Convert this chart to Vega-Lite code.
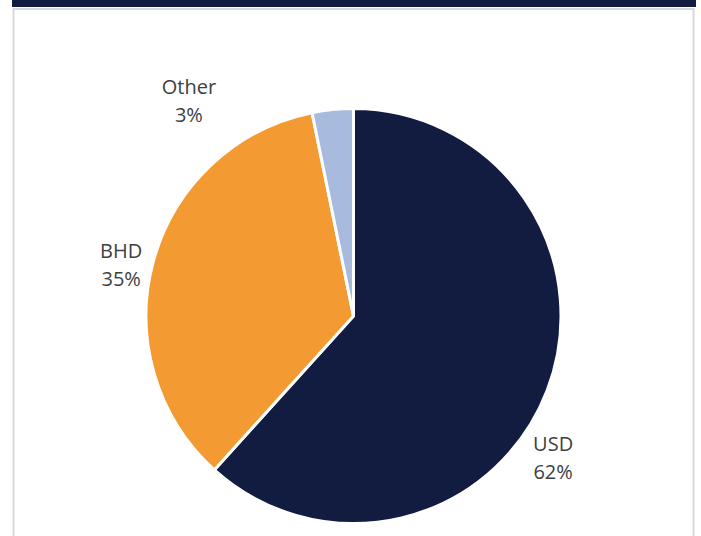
{
  "$schema": "https://vega.github.io/schema/vega-lite/v6.json",
  "background": "white",
  "padding": {"left": 12, "top": 0, "right": 5, "bottom": -87},
  "spacing": 1,
  "center": true,
  "config": {"view": {"stroke": null}},
  "vconcat": [
    {
      "width": 684,
      "height": 7,
      "view": {"fill": "#121b40", "stroke": null},
      "data": {"values": []},
      "mark": {"type": "text", "text": "", "clip": true}
    },
    {
      "width": 680,
      "height": 614,
      "view": {"stroke": "#d9d9d9", "strokeWidth": 2},
      "data": {
        "values": [
          {"cat": "USD", "value": 61.7, "order": 1, "label": "USD\n62%"},
          {"cat": "BHD", "value": 35.1, "order": 2, "label": "BHD\n35%"},
          {"cat": "Other", "value": 3.2, "order": 3, "label": "Other\n3%"}
        ]
      },
      "encoding": {
        "theta": {"field": "value", "type": "quantitative", "stack": true},
        "order": {"field": "order", "type": "quantitative"}
      },
      "layer": [
        {
          "mark": {"type": "arc", "outerRadius": 207.5, "stroke": "white", "strokeWidth": 3},
          "encoding": {
            "color": {
              "field": "cat",
              "type": "nominal",
              "scale": {"domain": ["USD", "BHD", "Other"], "range": ["#121b40", "#f39a32", "#a9badf"]},
              "legend": null
            }
          }
        },
        {
          "mark": {"type": "text", "clip": true, "radius": 245, "dx": -29, "dy": 41, "font": "Open Sans", "fontSize": 20, "lineHeight": 28, "lineBreak": "\n", "color": "#404040", "align": "center", "baseline": "middle"},
          "encoding": {
            "text": {"field": "label"},
            "opacity": {"condition": {"test": "datum.cat === 'USD'", "value": 1}, "value": 0}
          }
        },
        {
          "mark": {"type": "text", "clip": true, "radius": 245, "dx": 4, "dy": 0.5, "font": "Open Sans", "fontSize": 20, "lineHeight": 28, "lineBreak": "\n", "color": "#404040", "align": "center", "baseline": "middle"},
          "encoding": {
            "text": {"field": "label"},
            "opacity": {"condition": {"test": "datum.cat === 'BHD'", "value": 1}, "value": 0}
          }
        },
        {
          "mark": {"type": "text", "clip": true, "radius": 245, "dx": -140, "dy": 15.5, "font": "Open Sans", "fontSize": 20, "lineHeight": 28, "lineBreak": "\n", "color": "#404040", "align": "center", "baseline": "middle"},
          "encoding": {
            "text": {"field": "label"},
            "opacity": {"condition": {"test": "datum.cat === 'Other'", "value": 1}, "value": 0}
          }
        }
      ]
    }
  ]
}
